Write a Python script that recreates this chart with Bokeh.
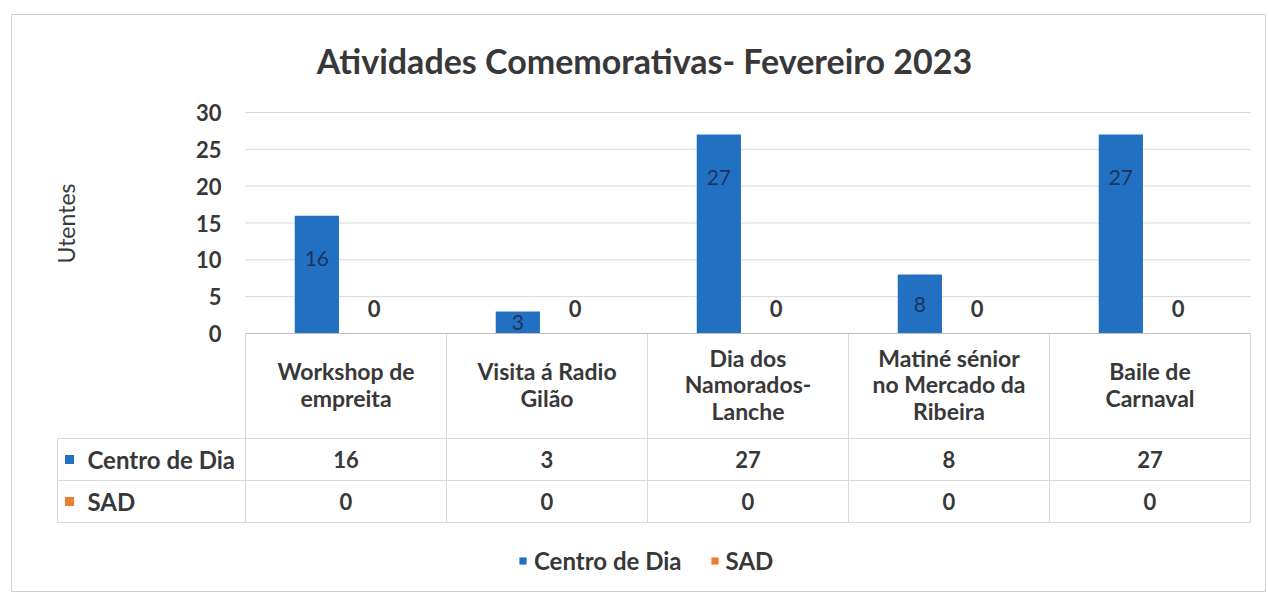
import numpy as np
from bokeh.plotting import figure
from bokeh.models import LinearAxis, FixedTicker, Legend, LegendItem
from bokeh.core.properties import value
from bokeh.embed import file_html
from bokeh.resources import INLINE

# ---------------- data ----------------
title = "Atividades Comemorativas- Fevereiro 2023"
categories = ["Workshop de\nempreita", "Visita á Radio\nGilão", "Dia dos\nNamorados-\nLanche",
              "Matiné sénior\nno Mercado da\nRibeira", "Baile de\nCarnaval"]
series_names = ["Centro de Dia", "SAD"]
centro_de_dia = [16, 3, 27, 8, 27]
sad = [0, 0, 0, 0, 0]
y_ticks = [0, 5, 10, 15, 20, 25, 30]
y_label = "Utentes"

# ---------------- layout ----------------
W, H = 1267, 593
X0_PAGE, CAT_PX = 245.0, 201.0
Y0_PAGE, UNIT_PX = 333.0, 221.0 / 30.0


def ux(px):
    return (px - X0_PAGE) / CAT_PX


def vy(py):
    return (Y0_PAGE - py) / UNIT_PX


FONT = "Lato"
TXT = "#383838"
BLUE = "#2270C2"
ORANGE = "#ED7D31"
GRID = "#d9d9d9"
FS = "23px"

p = figure(width=W, height=H, x_range=(ux(0), ux(W)), y_range=(vy(H), vy(0)),
           min_border=0, toolbar_location=None, output_backend="svg",
           x_axis_location=None, y_axis_location=None)
p.outline_line_color = None
p.xgrid.visible = False
p.ygrid.visible = False

# chart border
p.quad(left=ux(11), right=ux(1265), top=vy(14), bottom=vy(591), fill_color=None,
       line_color="#d0d0d0", line_width=1)

n = len(categories)
idx = np.arange(n)
xc = idx + 0.355
xs = idx + 0.64
cd = np.array(centro_de_dia, dtype=float)
sd = np.array(sad, dtype=float)

# gridlines
p.segment(x0=0, x1=n, y0=y_ticks[1:], y1=y_ticks[1:], line_color=GRID, line_width=1)

# bars
r1 = p.vbar(x=xc, top=cd, width=0.22, fill_color=BLUE, line_color=None)
r2 = p.vbar(x=xs, top=sd, width=0.22, fill_color=ORANGE, line_color=None)

# data labels
lab_y = np.maximum(cd - 43 / UNIT_PX, cd / 2)
p.text(x=xc, y=lab_y, text=[str(v) for v in centro_de_dia], text_align="center",
       text_baseline="middle", text_font=value(FONT), text_font_size="21px", text_color="#1d3461")
p.text(x=xs, y=sd + 25 / UNIT_PX, text=[str(v) for v in sad], text_align="center",
       text_baseline="middle", text_font=value(FONT), text_font_size="22px", text_color=TXT,
       text_font_style="bold")

# y axis
yaxis = LinearAxis(ticker=FixedTicker(ticks=y_ticks), fixed_location=0,
                   axis_line_color=None, major_tick_line_color=None, minor_tick_line_color=None,
                   major_tick_in=0, major_tick_out=0, minor_tick_in=0, minor_tick_out=0,
                   major_label_standoff=24, major_label_text_font=FONT,
                   major_label_text_font_size="22px", major_label_text_color=TXT,
                   major_label_text_font_style="bold")
p.add_layout(yaxis, "left")

p.text(x=[ux(65)], y=[vy(223)], text=[y_label], angle=np.pi / 2, text_align="center",
       text_baseline="middle", text_font=value(FONT), text_font_size="23px", text_color=TXT)

# title
p.text(x=[ux(644)], y=[vy(60)], text=[title], text_align="center", text_baseline="middle",
       text_font=value(FONT), text_font_size="34px", text_font_style="bold", text_color=TXT)

# data table
row_edges = [0.0, vy(438), vy(480), vy(522)]
left = ux(57)
cols = np.arange(n + 1)
p.segment(x0=cols, x1=cols, y0=0, y1=row_edges[-1], line_color=GRID)
p.segment(x0=left, x1=left, y0=row_edges[1], y1=row_edges[-1], line_color=GRID)
p.segment(x0=[left, left, left], x1=n, y0=row_edges[1:], y1=row_edges[1:], line_color=GRID)
p.segment(x0=0, x1=n, y0=0, y1=0, line_color="#bfbfbf")

hdr_y = vy(384)
p.text(x=idx + 0.5, y=hdr_y, text=categories, text_align="center", text_baseline="middle",
       text_font=value(FONT), text_font_size=FS, text_font_style="bold", text_color=TXT,
       text_line_height=0.96)

row_y = [(row_edges[1] + row_edges[2]) / 2, (row_edges[2] + row_edges[3]) / 2]
for vals, yy in zip([centro_de_dia, sad], row_y):
    p.text(x=idx + 0.5, y=yy, text=[str(v) for v in vals], text_align="center",
           text_baseline="middle", text_font=value(FONT), text_font_size="22px",
           text_font_style="bold", text_color=TXT)

p.scatter(x=ux(69), y=row_y, marker="square", size=9, fill_color=[BLUE, ORANGE], line_color=None)
p.text(x=ux(87), y=row_y, text=series_names, text_align="left", text_baseline="middle",
       text_font=value(FONT), text_font_size="24px", text_font_style="bold", text_color=TXT)

# legend
legend = Legend(items=[LegendItem(label=series_names[0], renderers=[r1]),
                       LegendItem(label=series_names[1], renderers=[r2])],
                orientation="horizontal", location=(518, 18), border_line_color=None,
                background_fill_alpha=0, glyph_width=9, glyph_height=9, padding=0, margin=0,
                spacing=28, label_standoff=7, label_text_font=FONT, label_text_font_size="24px",
                label_text_font_style="bold", label_text_color=TXT)
p.add_layout(legend)

open("out.html", "w").write(file_html(p, INLINE))
